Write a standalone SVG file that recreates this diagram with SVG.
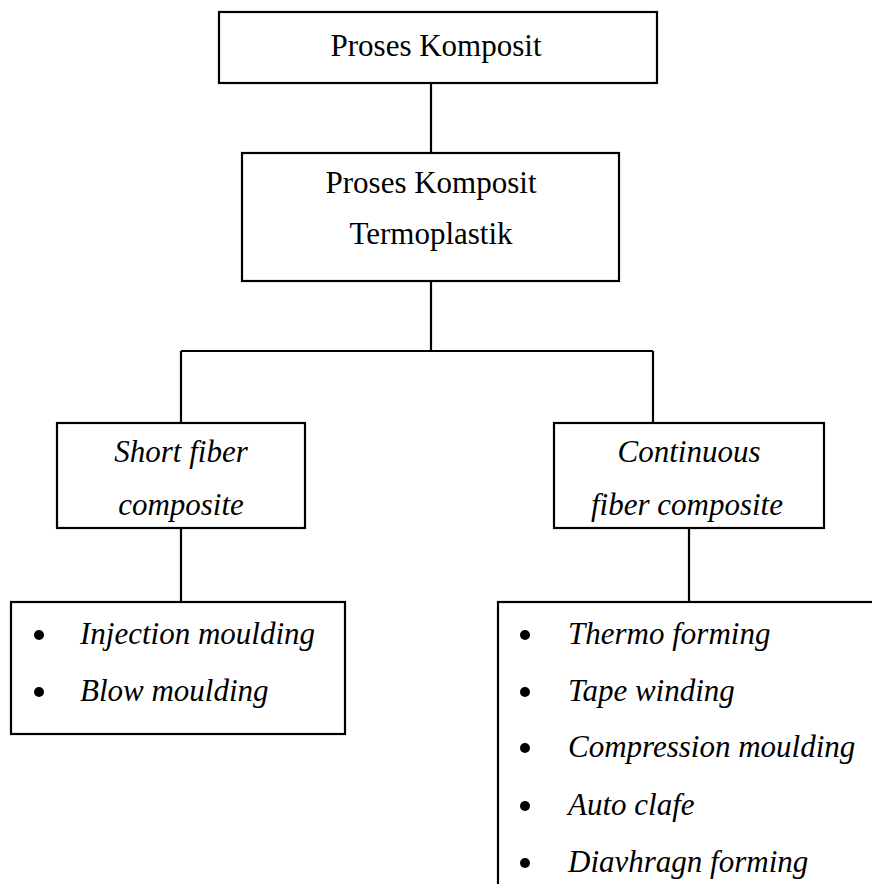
<svg xmlns="http://www.w3.org/2000/svg" width="872" height="884" viewBox="0 0 872 884">
<style>
.box{fill:#fff;stroke:#000;stroke-width:2.2}
.ln{fill:none;stroke:#000;stroke-width:2.2}
.t{font-family:"Liberation Serif","Times New Roman",serif;font-size:31px;fill:#000}
.c{text-anchor:middle}
.i{font-style:italic}
.b{fill:#000}
</style>
<rect width="872" height="884" fill="#fff"/>
<g id="connectors">
<path class="ln" d="M431 83V153"/>
<path class="ln" d="M431 281V351"/>
<path class="ln" d="M181 351H653"/>
<path class="ln" d="M181 351V423"/>
<path class="ln" d="M653 351V423"/>
<path class="ln" d="M181 528V602"/>
<path class="ln" d="M689 528V602"/>
</g>
<g id="n-root">
<rect class="box" x="219" y="12" width="438" height="71"/>
<text class="t c" x="436" y="56">Proses Komposit</text>
</g>
<g id="n-thermo">
<rect class="box" x="242" y="153" width="377" height="128"/>
<text class="t c" x="431" y="193">Proses Komposit</text>
<text class="t c" x="431" y="244">Termoplastik</text>
</g>
<g id="n-short">
<rect class="box" x="57" y="423" width="248" height="105"/>
<text class="t c i" x="181" y="462">Short fiber</text>
<text class="t c i" x="181" y="515">composite</text>
</g>
<g id="n-cont">
<rect class="box" x="554" y="423" width="270" height="105"/>
<text class="t c i" x="689" y="462">Continuous</text>
<text class="t c i" x="687" y="515">fiber composite</text>
</g>
<g id="n-short-list">
<rect class="box" x="11" y="602" width="334" height="132"/>
<circle class="b" cx="39" cy="635" r="5"/>
<text class="t i" x="80" y="644">Injection moulding</text>
<circle class="b" cx="39" cy="692" r="5"/>
<text class="t i" x="80" y="701">Blow moulding</text>
</g>
<g id="n-cont-list">
<rect class="box" x="498" y="602" width="400" height="320"/>
<circle class="b" cx="525" cy="635" r="5"/>
<text class="t i" x="568" y="644">Thermo forming</text>
<circle class="b" cx="525" cy="692" r="5"/>
<text class="t i" x="568" y="701">Tape winding</text>
<circle class="b" cx="525" cy="748" r="5"/>
<text class="t i" x="568" y="757">Compression moulding</text>
<circle class="b" cx="525" cy="806" r="5"/>
<text class="t i" x="568" y="815">Auto clafe</text>
<circle class="b" cx="525" cy="863" r="5"/>
<text class="t i" x="568" y="872">Diavhragn forming</text>
</g>
</svg>
